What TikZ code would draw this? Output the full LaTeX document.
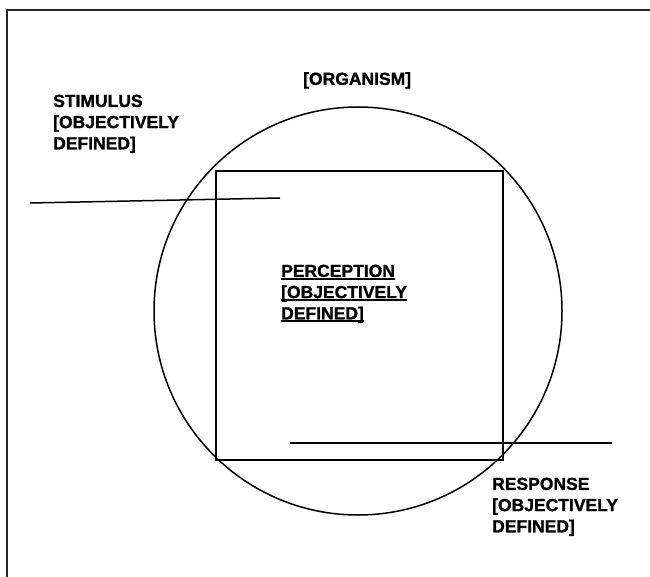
\documentclass[tikz,border=0pt]{standalone}
\usepackage{fontspec}
\setmainfont{Liberation Sans}
\newfontfamily\lblfont{Liberation Sans}[BoldFeatures={FakeBold=1.2}]
\newcommand\myul[1]{\setbox0\hbox{#1}\rlap{\rule[-2.6pt]{\wd0}{1.5pt}}\box0}
\begin{document}
\begin{tikzpicture}[x=1pt,y=-1pt,
  lbl/.style={anchor=north west,inner sep=0pt,align=left,
    font=\lblfont\fontsize{17.5}{21.2}\selectfont\bfseries},
  ln/.style={line width=1.5pt,black},
  frameline/.style={line width=1.1pt,black!85}]
\useasboundingbox (0,0) rectangle (650,577);
% frame
\coordinate (fTL) at (7,10);
\coordinate (fTR) at (650,10);
\coordinate (fBL) at (7,577);
\draw[frameline] (fBL) -- (fTL) -- (fTR);
% organism circle
\node[ln,draw,circle,minimum size=408pt,inner sep=0pt] (organism) at (358,311) {};
% perception square
\node[ln,draw,rectangle,minimum width=287pt,minimum height=289pt,inner sep=0pt] (square) at (359.5,315.5) {};
% stimulus line
\coordinate (s1) at (30,203);
\coordinate (s2) at (280,198);
\draw[ln] (s1) -- (s2);
% response line
\coordinate (r1) at (290,443);
\coordinate (r2) at (612,443);
\draw[ln] (r1) -- (r2);
% labels
\node[lbl] (orgtxt) at (303,72) {{[}ORGANISM{]}};
\node[lbl] (stim) at (53,94.5) {STIMULUS\\{[}OBJECTIVELY\\DEFINED{]}};
\node[lbl] (perc) at (281,264.5) {\myul{PERCEPTION}\\\myul{{[}OBJECTIVELY}\\\myul{DEFINED{]}}};
\node[lbl] (resp) at (492,477.5) {RESPONSE\\{[}OBJECTIVELY\\DEFINED{]}};
\end{tikzpicture}
\end{document}
